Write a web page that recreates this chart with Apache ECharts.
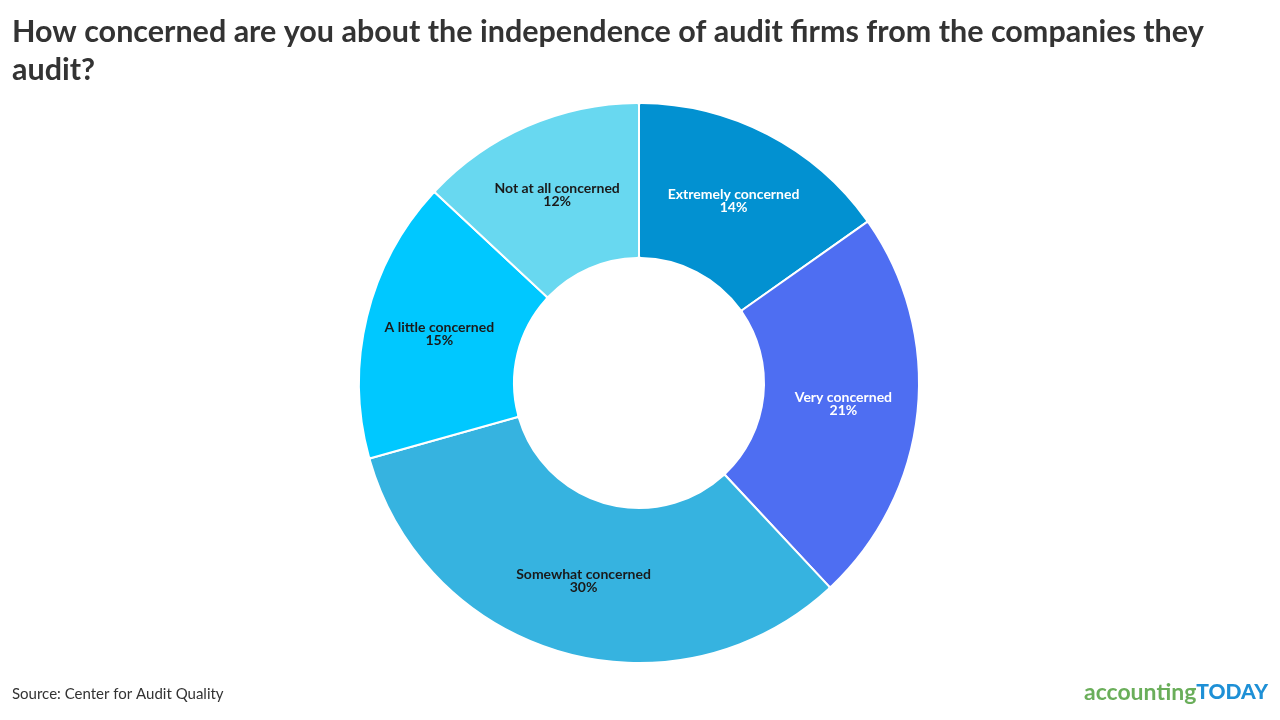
<!DOCTYPE html>
<html lang="en" style="height: 100%">
<head>
  <meta charset="utf-8" />
  <title>Audit firm independence</title>
</head>
<body style="height: 100%; margin: 0; background: #fff">
  <div id="container" style="width: 1280px; height: 720px"></div>

  <script type="text/javascript" src="https://fastly.jsdelivr.net/npm/echarts@6.0.0/dist/echarts.min.js"></script>
  <script type="text/javascript">
    // survey answers, clockwise from 12 o'clock
    var categories = ['Extremely concerned', 'Very concerned', 'Somewhat concerned', 'A little concerned', 'Not at all concerned'];
    var values = [14, 21, 30, 15, 12];
    var sliceColors = ['#0291d1', '#4e6ef2', '#36b3e0', '#00c8ff', '#68d8f0'];
    var labelColors = ['#ffffff', '#ffffff', '#1a1a1a', '#1a1a1a', '#1a1a1a'];

    var dom = document.getElementById('container');
    var myChart = echarts.init(dom, null, { renderer: 'canvas' });

    var data = categories.map(function (name, i) {
      return {
        name: name,
        value: values[i],
        itemStyle: { color: sliceColors[i] },
        label: { color: labelColors[i] }
      };
    });

    var option = {
      backgroundColor: '#ffffff',
      animation: false,
      title: [
        {
          text: 'How concerned are you about the independence of audit firms from the companies they\naudit?',
          left: 12,
          top: 13,
          padding: 0,
          textStyle: {
            fontFamily: 'Lato',
            fontWeight: 'bold',
            fontSize: 30.5,
            lineHeight: 38,
            color: '#333333'
          }
        },
        {
          text: 'Source: Center for Audit Quality',
          left: 12,
          top: 687,
          padding: 0,
          textStyle: {
            fontFamily: 'Lato',
            fontWeight: 'normal',
            fontSize: 15,
            color: '#333333'
          }
        },
        {
          text: '{a|accounting}{b|TODAY}',
          right: 12,
          top: 681,
          padding: 0,
          textStyle: {
            rich: {
              a: { fontFamily: 'Lato', fontSize: 23, fontWeight: 'bold', color: '#6aae5a' },
              b: { fontFamily: 'Lato', fontSize: 21, fontWeight: 900, color: '#1e90d6' }
            }
          }
        }
      ],
      series: [
        {
          type: 'pie',
          center: [639, 383],
          radius: [125, 280],
          startAngle: 90,
          clockwise: true,
          avoidLabelOverlap: false,
          itemStyle: {
            borderColor: '#ffffff',
            borderWidth: 2,
            borderRadius: 2
          },
          label: {
            show: true,
            position: 'inside',
            fontFamily: 'Lato',
            fontWeight: 'bold',
            fontSize: 14,
            lineHeight: 13,
            formatter: function (p) {
              return p.name + '\n' + p.value + '%';
            }
          },
          labelLine: { show: false },
          data: data
        }
      ]
    };

    myChart.setOption(option);
    window.addEventListener('resize', myChart.resize);
  </script>
</body>
</html>
